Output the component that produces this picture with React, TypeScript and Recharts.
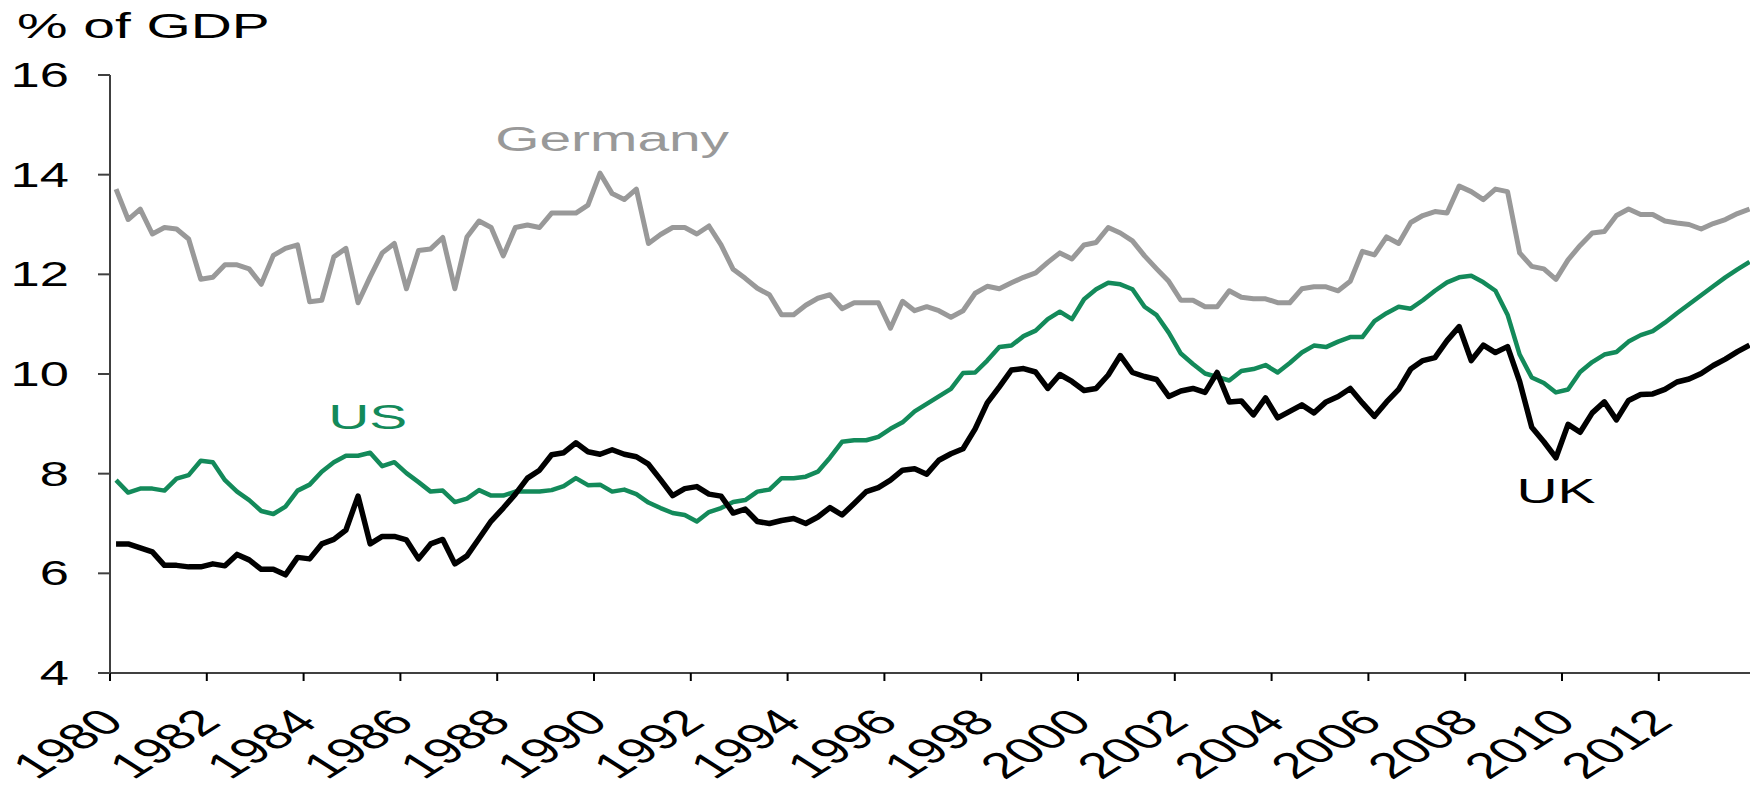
import React from 'react';
import { LineChart, Line, XAxis, YAxis, ReferenceDot } from 'recharts';

// quarterly, 1980Q1 .. 2013Q4
const germany = [
  13.71, 13.1, 13.31, 12.81, 12.94, 12.91, 12.71, 11.9, 11.94, 12.19,
  12.19, 12.11, 11.8, 12.38, 12.52, 12.59, 11.45, 11.48, 12.35, 12.52,
  11.43, 11.95, 12.43, 12.62, 11.71, 12.48, 12.51, 12.74, 11.71, 12.75,
  13.07, 12.94, 12.37, 12.94, 12.99, 12.94, 13.23, 13.23, 13.23, 13.39,
  14.03, 13.62, 13.5, 13.71, 12.62, 12.8, 12.94, 12.94, 12.81, 12.97,
  12.59, 12.1, 11.92, 11.72, 11.59, 11.19, 11.19, 11.38, 11.52, 11.59,
  11.31, 11.43, 11.43, 11.43, 10.92, 11.46, 11.27, 11.35, 11.27, 11.14,
  11.27, 11.62, 11.76, 11.71, 11.83, 11.94, 12.03, 12.24, 12.43, 12.31,
  12.59, 12.64, 12.94, 12.83, 12.67, 12.37, 12.11, 11.86, 11.48, 11.48,
  11.35, 11.35, 11.67, 11.54, 11.51, 11.51, 11.43, 11.43, 11.71, 11.75,
  11.75, 11.67, 11.86, 12.46, 12.39, 12.75, 12.62, 13.04, 13.18, 13.26,
  13.23, 13.77, 13.66, 13.5, 13.71, 13.66, 12.43, 12.16, 12.11, 11.9,
  12.29, 12.58, 12.83, 12.86, 13.18, 13.31, 13.2, 13.2, 13.07, 13.03,
  13.0, 12.91, 13.02, 13.1, 13.22, 13.31,
];

const us = [
  7.87, 7.62, 7.7, 7.7, 7.66, 7.9, 7.97, 8.26, 8.23, 7.87,
  7.64, 7.47, 7.25, 7.19, 7.34, 7.66, 7.78, 8.04, 8.23, 8.36,
  8.36, 8.42, 8.15, 8.23, 8.01, 7.83, 7.64, 7.66, 7.43, 7.5,
  7.67, 7.56, 7.56, 7.64, 7.64, 7.64, 7.67, 7.75, 7.91, 7.77,
  7.78, 7.64, 7.68, 7.59, 7.42, 7.31, 7.21, 7.17, 7.04, 7.23,
  7.31, 7.43, 7.47, 7.64, 7.68, 7.91, 7.91, 7.94, 8.04, 8.32,
  8.64, 8.67, 8.67, 8.74, 8.9, 9.03, 9.25, 9.4, 9.55, 9.7,
  10.02, 10.03, 10.27, 10.54, 10.57, 10.76, 10.87, 11.1, 11.25, 11.1,
  11.5, 11.7, 11.83, 11.8, 11.7, 11.35, 11.18, 10.83, 10.41, 10.2,
  10.01, 9.94, 9.87, 10.06, 10.1, 10.18, 10.03, 10.22, 10.43, 10.57,
  10.54, 10.65, 10.74, 10.74, 11.06, 11.22, 11.35, 11.31, 11.48, 11.67,
  11.84, 11.94, 11.97, 11.84, 11.67, 11.19, 10.39, 9.93, 9.82, 9.63,
  9.69, 10.04, 10.24, 10.39, 10.44, 10.65, 10.78, 10.86, 11.03, 11.22,
  11.4, 11.58, 11.76, 11.94, 12.1, 12.25,
];

const uk = [
  6.59, 6.59, 6.51, 6.43, 6.16, 6.16, 6.13, 6.13, 6.19, 6.15,
  6.38, 6.27, 6.08, 6.08, 5.97, 6.32, 6.29, 6.59, 6.68, 6.87,
  7.55, 6.59, 6.74, 6.74, 6.67, 6.29, 6.59, 6.68, 6.19, 6.35,
  6.7, 7.05, 7.31, 7.59, 7.91, 8.07, 8.38, 8.42, 8.62, 8.44,
  8.39, 8.48, 8.39, 8.34, 8.19, 7.88, 7.56, 7.7, 7.74, 7.59,
  7.55, 7.21, 7.29, 7.04, 7.0, 7.06, 7.1, 7.0, 7.13, 7.32,
  7.17, 7.4, 7.64, 7.72, 7.87, 8.07, 8.1, 7.99, 8.27, 8.4,
  8.5, 8.9, 9.42, 9.74, 10.08, 10.11, 10.04, 9.71, 9.99, 9.85,
  9.67, 9.71, 9.98, 10.37, 10.03, 9.95, 9.89, 9.55, 9.66, 9.71,
  9.63, 10.03, 9.44, 9.46, 9.18, 9.52, 9.12, 9.25, 9.38, 9.22,
  9.44, 9.55, 9.71, 9.42, 9.15, 9.44, 9.69, 10.1, 10.27, 10.33,
  10.67, 10.95, 10.27, 10.58, 10.43, 10.55, 9.85, 8.93, 8.64, 8.32,
  8.99, 8.83, 9.22, 9.44, 9.08, 9.47, 9.59, 9.6, 9.69, 9.84,
  9.9, 10.01, 10.17, 10.3, 10.45, 10.58,
];

const firstYear = 1980;
const tickYears = [1980, 1982, 1984, 1986, 1988, 1990, 1992, 1994, 1996, 1998, 2000, 2002, 2004, 2006, 2008, 2010, 2012];
const yTicks = [4, 6, 8, 10, 12, 14, 16];

// x is the quarter's centre, so points sit between the year ticks like in Excel
const data = germany.map((g, i) => ({ x: i + 0.5, germany: g, us: us[i], uk: uk[i] }));
const xTicks = tickYears.map((y) => (y - firstYear) * 4);

const FONT = '"Liberation Sans", Arial, sans-serif';
const FS = 36;
const SX = 1.58; // the original picture is stretched sideways
const GREEN = '#138a5a';
const GREY = '#999999';
const AXIS = '#404040';

const YTick = (props: any) => {
  const { x, y, payload } = props;
  return (
    <text
      transform={`translate(${x - 27},${y + 12}) scale(1.5,1)`}
      textAnchor="end"
      fontFamily={FONT}
      fontSize={35}
      fill="#000"
    >
      {payload.value}
    </text>
  );
};

const XTick = (props: any) => {
  const { x, y, payload } = props;
  return (
    <text
      transform={`translate(${x + 16},${y + 41}) scale(${SX},1) rotate(-45)`}
      textAnchor="end"
      fontFamily={FONT}
      fontSize={FS}
      fill="#000"
    >
      {firstYear + payload.value / 4}
    </text>
  );
};

const seriesLabel = (text: string, color: string) => (props: any) => (
  <text
    transform={`translate(${props.cx},${props.cy}) scale(${SX},1)`}
    textAnchor="middle"
    fontFamily={FONT}
    fontSize={FS}
    fill={color}
  >
    {text}
  </text>
);

export default function App() {
  return (
    <div style={{ position: 'fixed', left: 0, top: 0, width: 1750, height: 792, overflow: 'hidden', background: '#fff' }}>
      <LineChart width={1760} height={792} data={data} margin={{ top: 75, right: 4.4, bottom: 89, left: 0 }}>
        <XAxis
          dataKey="x"
          type="number"
          domain={[0, 136]}
          ticks={xTicks}
          interval={0}
          allowDecimals={false}
          tickSize={8}
          tick={<XTick />}
          axisLine={{ stroke: AXIS, strokeWidth: 2 }}
          tickLine={{ stroke: '#000', strokeWidth: 2 }}
        />
        <YAxis
          width={110}
          domain={[4, 16]}
          ticks={yTicks}
          interval={0}
          tickSize={12}
          tick={<YTick />}
          axisLine={{ stroke: AXIS, strokeWidth: 2 }}
          tickLine={{ stroke: AXIS, strokeWidth: 2 }}
        />
        <Line dataKey="germany" stroke={GREY} strokeWidth={5} dot={false} strokeLinejoin="round" isAnimationActive={false} />
        <Line dataKey="us" stroke={GREEN} strokeWidth={4.5} dot={false} strokeLinejoin="round" isAnimationActive={false} />
        <Line dataKey="uk" stroke="#000" strokeWidth={5.5} dot={false} strokeLinejoin="round" isAnimationActive={false} />
        <ReferenceDot x={41.5} y={14.47} r={0} ifOverflow="visible" shape={seriesLabel('Germany', GREY)} />
        <ReferenceDot x={21.3} y={8.9} r={0} ifOverflow="visible" shape={seriesLabel('US', GREEN)} />
        <ReferenceDot x={119.5} y={7.42} r={0} ifOverflow="visible" shape={seriesLabel('UK', '#000')} />
      </LineChart>
      <svg width={400} height={60} style={{ position: 'absolute', left: 0, top: 0 }}>
        <text transform={`translate(17,38) scale(${SX},1)`} fontFamily={FONT} fontSize={FS} fill="#000">
          % of GDP
        </text>
      </svg>
    </div>
  );
}
